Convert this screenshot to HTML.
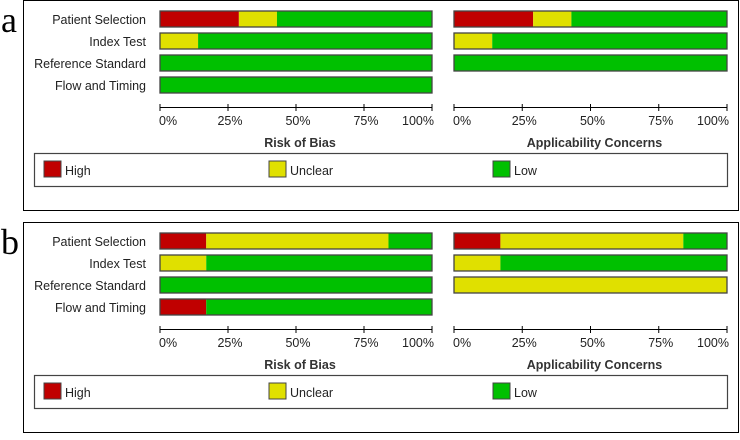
<!DOCTYPE html>
<html><head><meta charset="utf-8"><style>
body{margin:0;background:#fff;width:740px;height:435px;overflow:hidden}
svg text{font-family:"Liberation Sans",Arial,sans-serif}
</style></head><body>
<svg id="s" width="740" height="435" xmlns="http://www.w3.org/2000/svg"></svg>
<script>
const domains=["Patient Selection","Index Test","Reference Standard","Flow and Timing"];
const ticks=["0%","25%","50%","75%","100%"];
// [high, unclear, low] percentages
const aRob=[[29,14,57],[0,14,86],[0,0,100],[0,0,100]];
const aApp=[[29,14,57],[0,14,86],[0,0,100]];
const bRob=[[17,67,16],[0,17,83],[0,0,100],[17,0,83]];
const bApp=[[17,67,16],[0,17,83],[0,100,0]];
const panelLabels=["a","b"];
const colors=["#c00000","#e0e000","#00c000"];
const legendNames=["High","Unclear","Low"];
const NS="http://www.w3.org/2000/svg";
const svg=document.getElementById('s');
function mk(t,a,p){const e=document.createElementNS(NS,t);for(const k in a)e.setAttribute(k,a[k]);(p||svg).appendChild(e);return e;}
function chart(g,data,x0,x1,oy,title,tname){
  const xs=v=>x0+(x1-x0)*v/100;
  data.forEach((row,i)=>{
    const y=oy+11+i*22;let c=0;
    row.forEach((v,j)=>{ if(v<=0)return;
      const r=mk('rect',{x:xs(c),y:y,width:xs(c+v)-xs(c),height:16,fill:colors[j]},g);
      
      
      c+=v;});
    const o=mk('rect',{x:x0,y:y,width:x1-x0,height:16,fill:'none',stroke:'#444','stroke-width':1.3},g);
    
  });
  const ax=mk('line',{x1:x0,x2:x1,y1:oy+107.5,y2:oy+107.5,stroke:'#000'},g);
  
  ticks.forEach((t,i)=>{const x=xs(i*25);
    mk('line',{x1:x,x2:x,y1:oy+104,y2:oy+111,stroke:'#000'},g);
    const tx=mk('text',{x:i==4?x+2:(i==0?x-1:x+2),y:oy+125,'font-size':12.5,'text-anchor':i==0?'start':(i==4?'end':'middle'),fill:'#222'},g);
    tx.textContent=t;});
  const tt=mk('text',{x:(x0+x1)/2+4,y:oy+147,'font-size':12.5,'font-weight':'bold','text-anchor':'middle',fill:'#333'},g);
  tt.textContent=title;
}
function panel(oy,rob,app,lab){
  const g=mk('g',{});
  
  const f=mk('rect',{x:23.5,y:oy+0.5,width:715,height:210,fill:'none',stroke:'#000','stroke-width':1},g);
  
  const L=mk('text',{x:1,y:oy+32,'font-size':36,fill:'#000'},g);
  L.setAttribute('style','font-family:"Liberation Serif",serif');L.textContent=lab;
  
  domains.forEach((d,i)=>{const t=mk('text',{x:146,y:oy+24+i*22,'font-size':12.5,'text-anchor':'end',fill:'#222'},g);
    t.textContent=d;});
  chart(g,rob,160,432,oy,'Risk of Bias','risk-of-bias-title');
  chart(g,app,454,727,oy,'Applicability Concerns','applicability-title');
  const lb=mk('rect',{x:34.5,y:oy+153.5,width:693,height:33,fill:'#fff',stroke:'#444','stroke-width':1.2},g);
  
  [44,269,493].forEach((x,j)=>{
    const s=mk('rect',{x:x,y:oy+161,width:17,height:16,fill:colors[j],stroke:'#444'},g);
    
    const t=mk('text',{x:x+21,y:oy+175,'font-size':12.5,fill:'#222'},g);t.textContent=legendNames[j];
    });
}
panel(0,aRob,aApp,panelLabels[0]);
panel(222,bRob,bApp,panelLabels[1]);
</script>
</body></html>
